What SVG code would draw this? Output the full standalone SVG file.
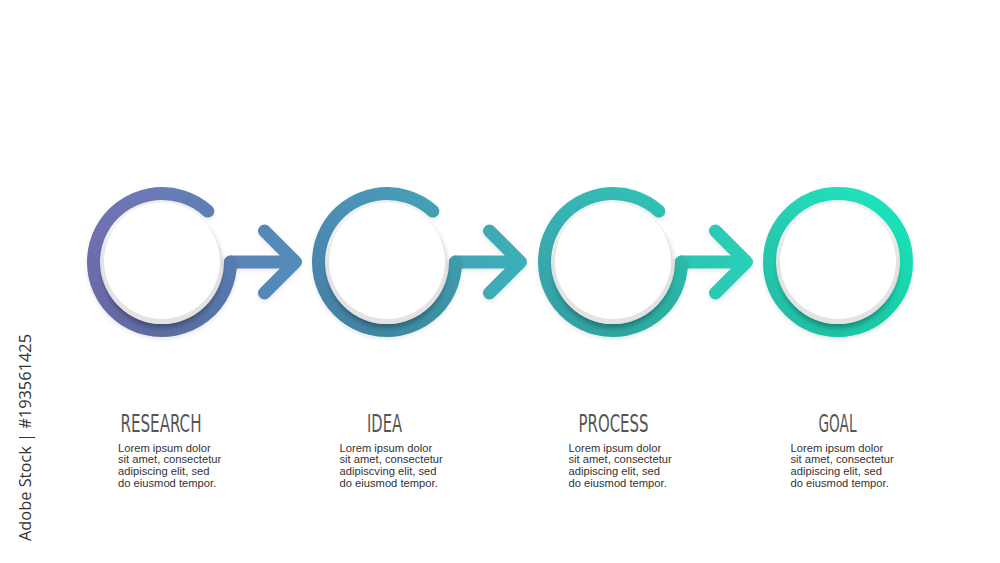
<svg xmlns="http://www.w3.org/2000/svg" width="1000" height="563" viewBox="0 0 1000 563">
  <defs>
    <linearGradient id="flow" gradientUnits="userSpaceOnUse" x1="87" y1="0" x2="913" y2="0">
      <stop offset="0" stop-color="#7572b7"/>
      <stop offset="0.27" stop-color="#4f8db9"/>
      <stop offset="0.5" stop-color="#3eacb6"/>
      <stop offset="0.73" stop-color="#2dc6b4"/>
      <stop offset="1" stop-color="#1de8bd"/>
    </linearGradient>
    <linearGradient id="shade" gradientUnits="userSpaceOnUse" x1="0" y1="190" x2="0" y2="337">
      <stop offset="0" stop-color="#000" stop-opacity="0"/>
      <stop offset="1" stop-color="#000" stop-opacity="0.12"/>
    </linearGradient>
    <filter id="discShadow" x="-30%" y="-30%" width="160%" height="160%">
      <feDropShadow dx="0" dy="4" stdDeviation="2.5" flood-color="#000" flood-opacity="0.28"/>
    </filter>
    <filter id="soft" x="-20%" y="-20%" width="140%" height="140%">
      <feDropShadow dx="0" dy="2" stdDeviation="2" flood-color="#000" flood-opacity="0.1"/>
    </filter>
  </defs>
  <style>
    .ring { fill: none; stroke: url(#flow); stroke-width: 13; stroke-linecap: round; stroke-linejoin: round; }
    .ringshade { fill: none; stroke: url(#shade); stroke-width: 13; stroke-linecap: round; }
    .link { fill: none; stroke: url(#flow); stroke-width: 13; stroke-linecap: round; stroke-linejoin: round; }
    .base { fill: #e3e3e3; }
    .face { fill: #ffffff; }
    .title { font-family: "Liberation Sans Narrow", "DejaVu Sans Condensed", "Liberation Sans", sans-serif; font-size: 25.5px; fill: #555555; text-anchor: middle; }
    .body { font-family: "Liberation Sans", Arial, sans-serif; font-size: 11.2px; fill: #333333; }
    .mark { font-family: "Open Sans", "Liberation Sans", sans-serif; font-size: 16px; fill: #333333; }
  </style>
  <rect x="0" y="0" width="1000" height="563" fill="#ffffff"/>

  <g id="connectors" filter="url(#soft)">
    <path class="link" d="M230.5 262 L295.5 262 M264.5 231 L295.5 262 L264.5 293"/>
    <path class="link" d="M455.5 262 L520.5 262 M489.5 231 L520.5 262 L489.5 293"/>
    <path class="link" d="M681.5 262 L746.5 262 M715.5 231 L746.5 262 L715.5 293"/>
  </g>

  <g id="node-research">
    <path class="ring" filter="url(#soft)" d="M207.8 211.1 A68.5 68.5 0 1 0 230.5 262"/>
    <path class="ringshade" d="M207.8 211.1 A68.5 68.5 0 1 0 230.5 262"/>
    <circle class="base" cx="162" cy="264" r="60" filter="url(#discShadow)"/>
    <circle class="face" cx="162" cy="261" r="58"/>
    <text class="title" x="161" y="431.5" textLength="81" lengthAdjust="spacingAndGlyphs">RESEARCH</text>
    <text class="body" x="118" y="451.5">
      <tspan x="118" y="451.5">Lorem ipsum dolor</tspan>
      <tspan x="118" y="463.3">sit amet, consectetur</tspan>
      <tspan x="118" y="475.1">adipiscing elit, sed</tspan>
      <tspan x="118" y="486.9">do eiusmod tempor.</tspan>
    </text>
  </g>

  <g id="node-idea">
    <path class="ring" filter="url(#soft)" d="M432.8 211.1 A68.5 68.5 0 1 0 455.5 262"/>
    <path class="ringshade" d="M432.8 211.1 A68.5 68.5 0 1 0 455.5 262"/>
    <circle class="base" cx="387" cy="264" r="60" filter="url(#discShadow)"/>
    <circle class="face" cx="387" cy="261" r="58"/>
    <text class="title" x="384.5" y="431.5" textLength="35" lengthAdjust="spacingAndGlyphs">IDEA</text>
    <text class="body" x="339.5" y="451.5">
      <tspan x="339.5" y="451.5">Lorem ipsum dolor</tspan>
      <tspan x="339.5" y="463.3">sit amet, consectetur</tspan>
      <tspan x="339.5" y="475.1">adipiscving elit, sed</tspan>
      <tspan x="339.5" y="486.9">do eiusmod tempor.</tspan>
    </text>
  </g>

  <g id="node-process">
    <path class="ring" filter="url(#soft)" d="M658.8 211.1 A68.5 68.5 0 1 0 681.5 262"/>
    <path class="ringshade" d="M658.8 211.1 A68.5 68.5 0 1 0 681.5 262"/>
    <circle class="base" cx="613" cy="264" r="60" filter="url(#discShadow)"/>
    <circle class="face" cx="613" cy="261" r="58"/>
    <text class="title" x="613.5" y="431.5" textLength="70" lengthAdjust="spacingAndGlyphs">PROCESS</text>
    <text class="body" x="568.5" y="451.5">
      <tspan x="568.5" y="451.5">Lorem ipsum dolor</tspan>
      <tspan x="568.5" y="463.3">sit amet, consectetur</tspan>
      <tspan x="568.5" y="475.1">adipiscing elit, sed</tspan>
      <tspan x="568.5" y="486.9">do eiusmod tempor.</tspan>
    </text>
  </g>

  <g id="node-goal">
    <circle class="ring" filter="url(#soft)" cx="838" cy="262" r="68.5"/>
    <circle class="ringshade" cx="838" cy="262" r="68.5"/>
    <circle class="base" cx="838" cy="264" r="60" filter="url(#discShadow)"/>
    <circle class="face" cx="838" cy="261" r="58"/>
    <text class="title" x="837.5" y="431.5" textLength="38" lengthAdjust="spacingAndGlyphs">GOAL</text>
    <text class="body" x="790.5" y="451.5">
      <tspan x="790.5" y="451.5">Lorem ipsum dolor</tspan>
      <tspan x="790.5" y="463.3">sit amet, consectetur</tspan>
      <tspan x="790.5" y="475.1">adipiscing elit, sed</tspan>
      <tspan x="790.5" y="486.9">do eiusmod tempor.</tspan>
    </text>
  </g>

  <text class="mark" transform="translate(31 541) rotate(-90)" textLength="207" lengthAdjust="spacingAndGlyphs">Adobe Stock | #193561425</text>
</svg>
